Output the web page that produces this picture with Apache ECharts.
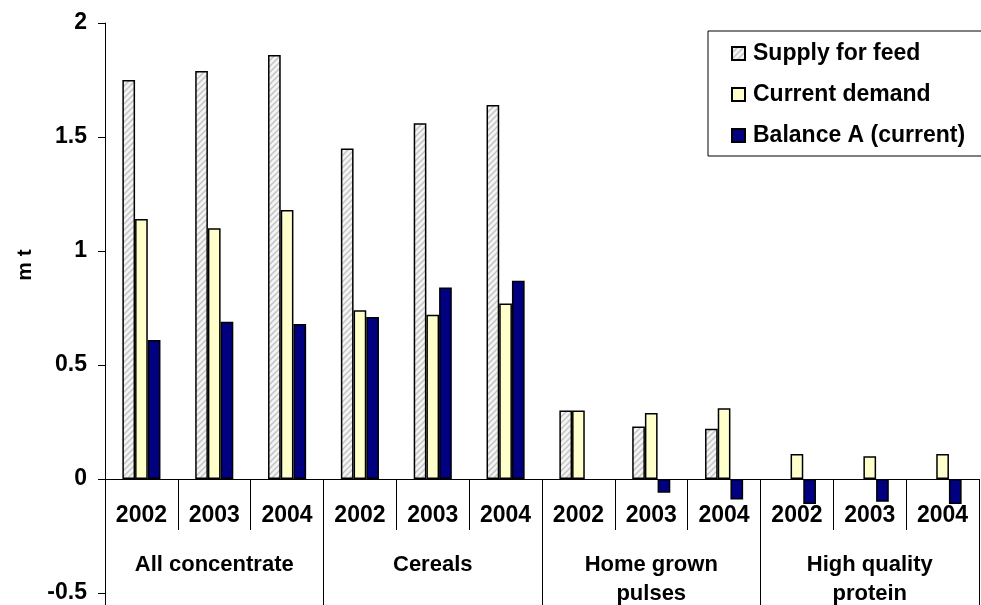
<!DOCTYPE html>
<html>
<head>
<meta charset="utf-8">
<script src="https://cdn.jsdelivr.net/npm/echarts@6/dist/echarts.min.js"></script>
<style>
  html, body { margin: 0; padding: 0; background: #fff; }
  #chart { width: 981px; height: 605px; }
</style>
</head>
<body>
<div id="chart"></div>
<script>
var years = ['2002', '2003', '2004', '2002', '2003', '2004', '2002', '2003', '2004', '2002', '2003', '2004'];
var groups = ['All concentrate', 'Cereals', 'Home grown\npulses', 'High quality\nprotein'];
var supply = [1.75, 1.79, 1.86, 1.45, 1.56, 1.64, 0.30, 0.23, 0.22, null, null, null];
var demand = [1.14, 1.10, 1.18, 0.74, 0.72, 0.77, 0.30, 0.29, 0.31, 0.11, 0.10, 0.11];
var balance = [0.61, 0.69, 0.68, 0.71, 0.84, 0.87, null, -0.06, -0.09, -0.11, -0.10, -0.11];

// diagonal hatch for the supply bars
var hatch = document.createElement('canvas');
hatch.width = 6;
hatch.height = 6;
var hctx = hatch.getContext('2d');
hctx.fillStyle = '#f4f4f4';
hctx.fillRect(0, 0, 6, 6);
hctx.strokeStyle = '#c4c4c4';
hctx.lineWidth = 1.5;
hctx.beginPath();
hctx.moveTo(-1, 7); hctx.lineTo(7, -1);
hctx.moveTo(-4, 4); hctx.lineTo(4, -4);
hctx.moveTo(2, 10); hctx.lineTo(10, 2);
hctx.stroke();

var font = 'Liberation Sans, Arial, sans-serif';
var chart = echarts.init(document.getElementById('chart'), null, { renderer: 'canvas' });

function barSeries(name, data, color) {
    return {
        name: name,
        type: 'bar',
        xAxisIndex: 0,
        data: data,
        barWidth: 12.7,
        barGap: '0%',
        itemStyle: { color: color, borderColor: '#000', borderWidth: 1.5 }
    };
}

// grid bottom is at -0.5, the x axes sit at value 0 (114px higher)
var option = {
    animation: false,
    backgroundColor: '#fff',
    grid: { left: 105, right: 2, top: 23, bottom: 12, outerBoundsMode: 'none' },
    legend: {
        orient: 'vertical',
        left: 708,
        top: 31,
        padding: [11, 40, 9, 23],
        borderColor: '#000',
        borderWidth: 1,
        itemWidth: 13,
        itemHeight: 13,
        itemGap: 18,
        icon: 'rect',
        textStyle: { fontFamily: font, fontWeight: 'bold', fontSize: 23, lineHeight: 22, color: '#000', padding: [0, 0, 0, 3] },
        data: ['Supply for feed', 'Current demand', 'Balance A (current)']
    },
    xAxis: [
        {
            type: 'category',
            position: 'bottom',
            offset: -114,
            data: years,
            axisLine: { onZero: false, lineStyle: { color: '#000', width: 1 } },
            axisTick: { show: true, length: 51, interval: 0, lineStyle: { color: '#000' } },
            axisLabel: { show: true, interval: 0, margin: 25, fontFamily: font, fontWeight: 'bold', fontSize: 23, color: '#000' },
            splitLine: { show: false }
        },
        {
            type: 'category',
            position: 'bottom',
            offset: -114,
            data: groups,
            axisLine: { show: false, onZero: false },
            axisTick: { show: true, length: 130, interval: 0, lineStyle: { color: '#000' } },
            axisLabel: { show: true, interval: 0, margin: 71, fontFamily: font, fontWeight: 'bold', fontSize: 22, lineHeight: 29, color: '#000' },
            splitLine: { show: false }
        }
    ],
    yAxis: {
        type: 'value',
        min: -0.5,
        max: 2,
        interval: 0.5,
        name: 'm t',
        nameLocation: 'middle',
        nameRotate: 90,
        nameGap: 69,
        nameTextStyle: { fontFamily: font, fontWeight: 'bold', fontSize: 21, color: '#000', padding: [0, 0, 0, 86] },
        axisLine: { show: true, lineStyle: { color: '#000', width: 1 } },
        axisTick: { show: true, length: 7, lineStyle: { color: '#000' } },
        axisLabel: { margin: 18, fontFamily: font, fontWeight: 'bold', fontSize: 23, color: '#000' },
        splitLine: { show: false }
    },
    series: [
        barSeries('Supply for feed', supply, { image: hatch, repeat: 'repeat' }),
        barSeries('Current demand', demand, '#ffffcc'),
        barSeries('Balance A (current)', balance, '#000080')
    ]
};
chart.setOption(option);
</script>
</body>
</html>
